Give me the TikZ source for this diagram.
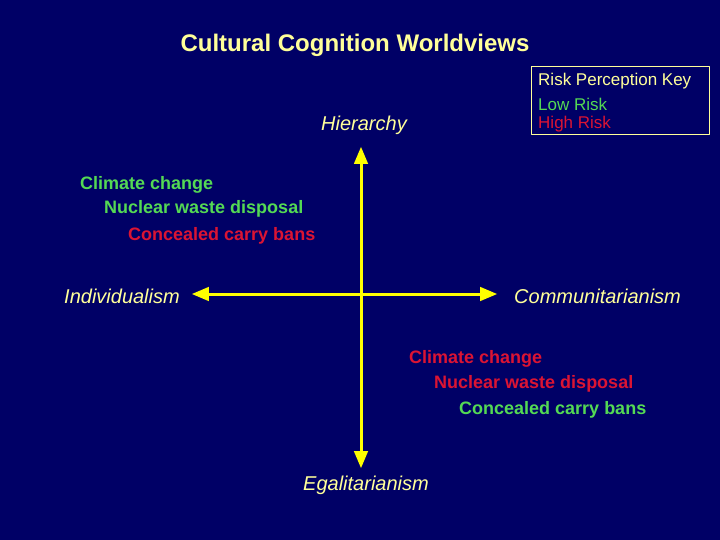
\documentclass[tikz,border=0pt]{standalone}
\usepackage{fontspec}
\setmainfont{Liberation Sans}
\usetikzlibrary{arrows}
\definecolor{bgnavy}{rgb}{0,0,0.4}
\definecolor{ffffcc}{rgb}{1,1,0.6}
\definecolor{ffff00}{rgb}{1,1,0}
\definecolor{lowgreen}{rgb}{0.33,0.85,0.33}
\definecolor{highred}{rgb}{0.86,0.08,0.2}

\begin{document}
\begin{tikzpicture}[line cap=round,line join=round,>=triangle 45,x=1pt,y=-1pt,
  axislabel/.style={font=\fontsize{20}{22}\selectfont\itshape,text=ffffcc,inner sep=0pt},
  item/.style={font=\fontsize{18}{20}\selectfont\bfseries,anchor=west,inner sep=0pt},
  keytext/.style={font=\fontsize{17}{19}\selectfont,anchor=west,inner sep=0pt}]
\fill[bgnavy] (0,0) rectangle (720,540);
\useasboundingbox (0,0) rectangle (720,540);
% title
\node[font=\fontsize{24}{26}\selectfont\bfseries,text=ffffcc,inner sep=0pt] (title) at (355,45) {Cultural Cognition Worldviews};
% axes
\coordinate (top) at (361,147);
\coordinate (bottom) at (361,468);
\coordinate (left) at (192,294);
\coordinate (right) at (497,294);
\draw [<->,line width=3pt,color=ffff00] (top) -- (bottom);
\draw [<->,line width=3pt,color=ffff00] (left) -- (right);
\node[axislabel] (hier) at (364,125) {Hierarchy};
\node[axislabel,anchor=west] (indiv) at (64,296) {Individualism};
\node[axislabel,anchor=west] (commun) at (514,296) {Communitarianism};
\node[axislabel] (egal) at (366,485) {Egalitarianism};
% key
\draw [line width=1pt,color=ffffcc] (531,67) rectangle (709,135);
\node[keytext,text=ffffcc] (keyhead) at (538,81) {Risk Perception Key};
\node[keytext,text=lowgreen] (keylow) at (538,104) {Low Risk};
\node[keytext,text=highred] (keyhigh) at (538,124) {High Risk};
% individualist list
\node[item,text=lowgreen] (iclimate) at (80,185) {Climate change};
\node[item,text=lowgreen] (inuclear) at (104,209) {Nuclear waste disposal};
\node[item,text=highred] (icarry) at (128,236) {Concealed carry bans};
% communitarian list
\node[item,text=highred] (cclimate) at (409,359) {Climate change};
\node[item,text=highred] (cnuclear) at (434,384) {Nuclear waste disposal};
\node[item,text=lowgreen] (ccarry) at (459,410) {Concealed carry bans};
\end{tikzpicture}
\end{document}
